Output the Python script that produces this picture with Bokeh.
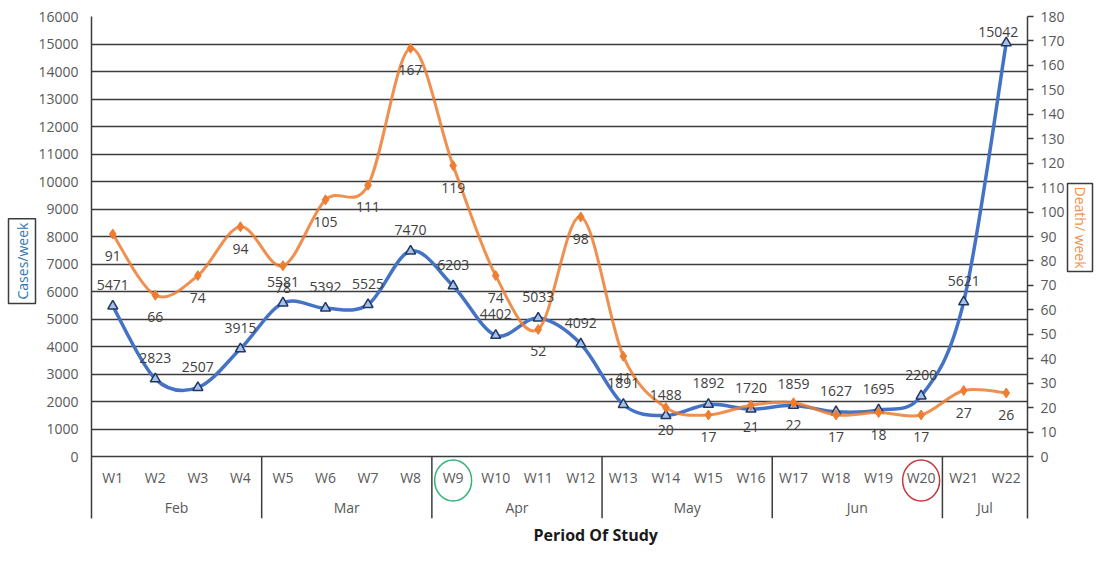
from bokeh.plotting import figure
from bokeh.models import Range1d, LinearAxis, FixedTicker, Title
from bokeh.embed import file_html
from bokeh.resources import INLINE
from bokeh.core.properties import value

# ---------------- data ----------------
weeks = ["W1", "W2", "W3", "W4", "W5", "W6", "W7", "W8", "W9", "W10", "W11",
         "W12", "W13", "W14", "W15", "W16", "W17", "W18", "W19", "W20", "W21", "W22"]
months = ["Feb", "Mar", "Apr", "May", "Jun", "Jul"]
weeks_per_month = [4, 4, 4, 4, 4, 2]
cases = [5471, 2823, 2507, 3915, 5581, 5392, 5525, 7470, 6203, 4402, 5033,
         4092, 1891, 1488, 1892, 1720, 1859, 1627, 1695, 2200, 5621, 15042]
deaths = [91, 66, 74, 94, 78, 105, 111, 167, 119, 74, 52,
          98, 41, 20, 17, 21, 22, 17, 18, 17, 27, 26]
cases_ticks = list(range(0, 16001, 1000))
death_ticks = list(range(0, 181, 10))
highlight = {"W9": "#34B27A", "W20": "#C4393F"}

# ---------------- layout constants ----------------
W, H = 1095, 550
FL, FT, FR, FB = 91, 16, 1027, 518       # frame box in figure px
ZERO_PX = 456                            # pixel row of value 0
CMAX, DMAX = 16000, 180
cpp = CMAX / (ZERO_PX - FT)              # cases per pixel
dpp = DMAX / (ZERO_PX - FT)
c_bottom = -(FB - ZERO_PX) * cpp
d_bottom = -(FB - ZERO_PX) * dpp


def px_to_cases(py):
    return (ZERO_PX - py) * cpp


FONT = "Open Sans"
TXT = "#595959"
DARK = "#3c3c3c"
BLUE = "#4472C4"
ORANGE = "#ED7D31"

p = figure(width=W, height=H, x_range=Range1d(0, len(weeks)),
           y_range=Range1d(c_bottom, CMAX), output_backend="svg",
           toolbar_location=None, x_axis_location=None,
           min_border_left=FL, min_border_right=W - FR,
           min_border_top=FT, min_border_bottom=H - FB)
p.outline_line_color = None
p.background_fill_color = "white"
p.border_fill_color = "white"

# left axis
p.yaxis.ticker = FixedTicker(ticks=cases_ticks)
p.yaxis.major_tick_out = 0
p.yaxis.major_tick_in = 0
p.yaxis.minor_tick_out = 0
p.yaxis.minor_tick_in = 0
p.yaxis.axis_line_color = DARK
p.yaxis.axis_line_width = 1.5
p.yaxis.major_label_text_font = FONT
p.yaxis.major_label_text_font_size = "14px"
p.yaxis.major_label_text_color = TXT
p.yaxis.major_label_standoff = 13
p.ygrid.grid_line_color = DARK
p.ygrid.grid_line_width = 1.5
p.xgrid.grid_line_color = None

# right axis
p.extra_y_ranges = {"deaths": Range1d(d_bottom, DMAX)}
rax = LinearAxis(y_range_name="deaths", ticker=FixedTicker(ticks=death_ticks),
                 major_tick_out=6, major_tick_in=0, minor_tick_out=0, minor_tick_in=0,
                 axis_line_color=DARK, axis_line_width=1.5,
                 major_tick_line_color=DARK, major_tick_line_width=1.5,
                 major_label_text_font=FONT, major_label_text_font_size="14px",
                 major_label_text_color=TXT, major_label_standoff=7)
p.add_layout(rax, "right")

xs = [i + 0.5 for i in range(len(weeks))]


def bezier_parts(xv, yv):
    n = len(xv)
    out = dict(x0=[], y0=[], x1=[], y1=[], cx0=[], cy0=[], cx1=[], cy1=[])
    for i in range(n - 1):
        xp, yp = (xv[i - 1], yv[i - 1]) if i > 0 else (xv[i], yv[i])
        xn, yn = (xv[i + 2], yv[i + 2]) if i + 2 < n else (xv[i + 1], yv[i + 1])
        out["x0"].append(xv[i]); out["y0"].append(yv[i])
        out["x1"].append(xv[i + 1]); out["y1"].append(yv[i + 1])
        out["cx0"].append(xv[i] + (xv[i + 1] - xp) / 6)
        out["cy0"].append(yv[i] + (yv[i + 1] - yp) / 6)
        out["cx1"].append(xv[i + 1] - (xn - xv[i]) / 6)
        out["cy1"].append(yv[i + 1] - (yn - yv[i]) / 6)
    return out


# category axis drawn inside extended frame
wy = px_to_cases(477)
my = px_to_cases(507)
p.text(x=xs, y=[wy] * len(xs), text=weeks, text_font=value(FONT),
       text_font_size=value("14px"), text_color=TXT,
       text_align="center", text_baseline="middle")
starts = []
acc = 0
mx = []
for n in weeks_per_month:
    starts.append(acc)
    mx.append(acc + n / 2)
    acc += n
p.text(x=mx, y=[my] * len(mx), text=months, text_font=value(FONT),
       text_font_size=value("14px"), text_color=TXT,
       text_align="center", text_baseline="middle")
seps = starts[1:]
p.segment(x0=seps, y0=[0] * len(seps), x1=seps, y1=[c_bottom] * len(seps),
          line_color=DARK, line_width=1.5)

# highlight circles
for wk, col in highlight.items():
    i = weeks.index(wk)
    p.ellipse(x=[xs[i]], y=[px_to_cases(480)], width=37, height=41,
              width_units="screen", height_units="screen",
              fill_color=None, line_color=col, line_width=1.5)

# cases line
bc = bezier_parts(xs, cases)
p.bezier(line_color=BLUE, line_width=3.5, line_cap="round", **bc)
p.scatter(xs, cases, marker="triangle", size=10, fill_color="#A9C1E8",
          line_color="#1F3864", line_width=1.5)

# deaths line
bd = bezier_parts(xs, deaths)
p.bezier(line_color=ORANGE, line_width=3, line_cap="round", line_alpha=0.85,
         y_range_name="deaths", **bd)
p.scatter(xs, deaths, marker="diamond", size=10, fill_color=ORANGE,
          line_color=ORANGE, y_range_name="deaths")

# data labels
last = len(xs) - 1
p.text(x=xs[:last], y=cases[:last], text=[str(v) for v in cases[:last]],
       text_font=value(FONT), text_font_size=value("14px"), text_color="#404040",
       text_align="center", text_baseline="middle", y_offset=-21)
p.text(x=xs[last:], y=cases[last:], text=[str(v) for v in cases[last:]],
       text_font=value(FONT), text_font_size=value("14px"), text_color="#404040",
       text_align="center", text_baseline="middle", y_offset=-11, x_offset=-8)
p.text(x=xs, y=deaths, text=[str(v) for v in deaths], y_range_name="deaths",
       text_font=value(FONT), text_font_size=value("14px"), text_color="#404040",
       text_align="center", text_baseline="middle", y_offset=22)

# axis titles (boxed) and x title
p.add_layout(Title(text="Cases/week", align="left", offset=FB - 303,
                   text_font=FONT, text_font_size="14px", text_font_style="normal",
                   text_color="#2E75B6", border_line_color=DARK,
                   border_line_width=1.5, background_fill_color="white",
                   padding=4, standoff=0), "left")
p.add_layout(Title(text="Death/ week", align="left", offset=183 - FT,
                   text_font=FONT, text_font_size="14px", text_font_style="normal",
                   text_color="#F0904A", border_line_color=DARK,
                   border_line_width=1.5, background_fill_color="white",
                   padding=3, standoff=0), "right")
p.add_layout(Title(text="Period Of Study", align="left", offset=533 - FL,
                   text_font=FONT, text_font_size="16px", text_font_style="bold",
                   text_color="#1a1a1a", standoff=7), "below")

open("out.html", "w").write(file_html(p, INLINE))
